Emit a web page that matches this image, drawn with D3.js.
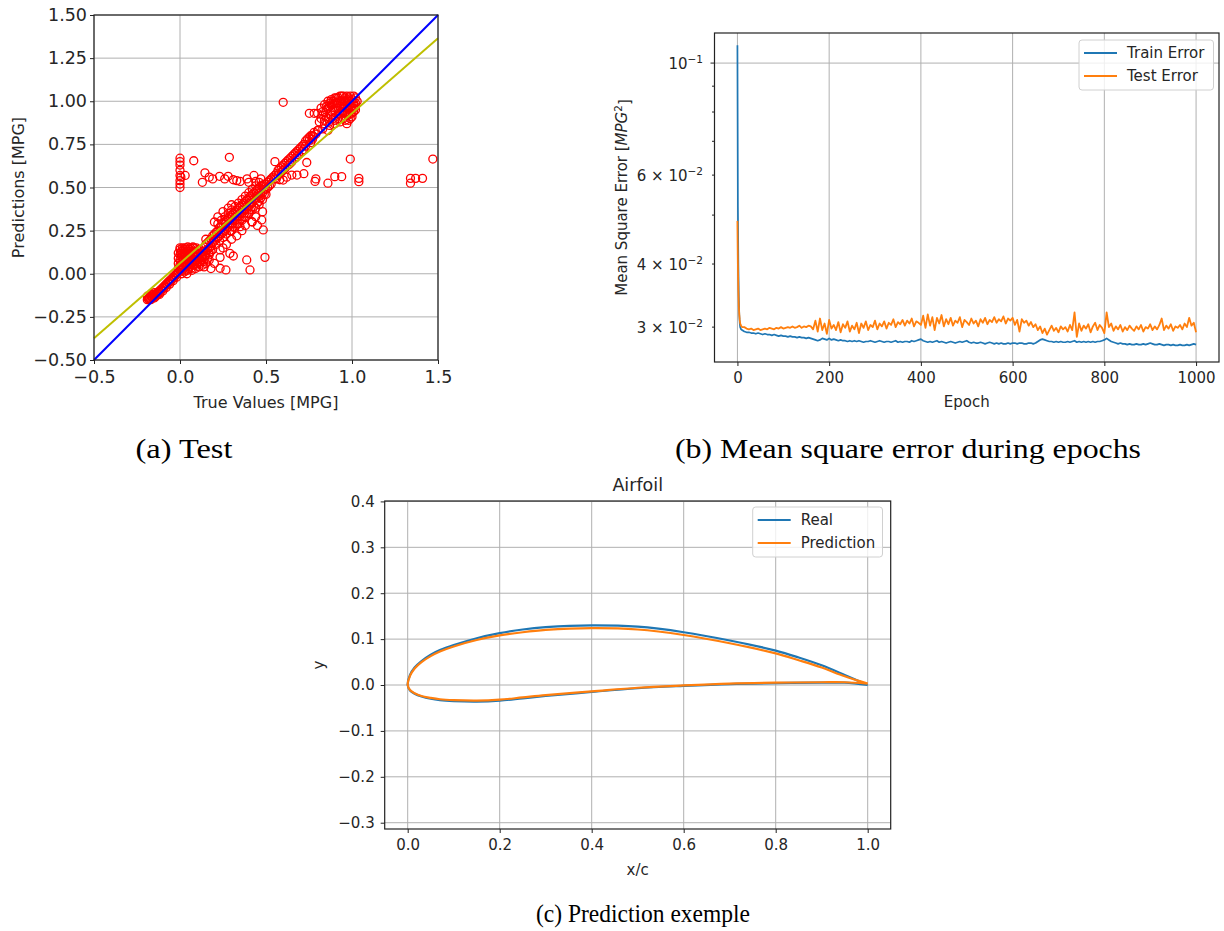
<!DOCTYPE html>
<html lang="en">
  <head>
    <meta charset="utf-8">
    <title>Test / MSE / Airfoil</title>
    <script src="https://d3js.org/d3.v7.min.js"></script>
    <style>
      body { margin: 0; background: #fff; }
      text { font-family: "DejaVu Sans", sans-serif; fill: #262626; }
      .caption { font-family: "Liberation Serif", serif; fill: #000; }
    </style>
  </head>
  <body>
    <script>
    // ---------------- data: (a) true values vs predictions ----------------
    const aXTicks = [-0.5, 0, 0.5, 1.0, 1.5]
    const aYTicks = [-0.5, -0.25, 0, 0.25, 0.5, 0.75, 1.0, 1.25, 1.5]
    const identityX = [-0.5, 1.5]
    const identityY = [-0.5, 1.5]
    const fitX = [-0.5, 1.5]
    const fitY = [-0.374, 1.365]
    // [true, predicted]
    const testPoints = [
      // lower tail below zero
      [-0.19,-0.15],[-0.18,-0.14],[-0.18,-0.15],[-0.17,-0.13],[-0.17,-0.15],[-0.16,-0.14],[-0.16,-0.12],
      [-0.15,-0.13],[-0.15,-0.14],[-0.14,-0.12],[-0.14,-0.13],[-0.13,-0.11],[-0.13,-0.12],[-0.12,-0.10],
      [-0.12,-0.12],[-0.11,-0.09],[-0.10,-0.10],[-0.10,-0.08],[-0.09,-0.07],[-0.08,-0.08],[-0.08,-0.06],
      [-0.07,-0.05],[-0.06,-0.06],[-0.06,-0.04],[-0.05,-0.03],[-0.04,-0.04],[-0.04,-0.02],[-0.03,-0.01],
      [-0.02,-0.02],[-0.02,0.00],[-0.01,0.01],
      [-0.185,-0.145],[-0.175,-0.14],[-0.165,-0.135],[-0.155,-0.125],[-0.145,-0.135],[-0.135,-0.115],
      [-0.125,-0.105],[-0.115,-0.11],[-0.105,-0.09],[-0.095,-0.085],[-0.085,-0.07],[-0.075,-0.065],
      [-0.065,-0.05],[-0.055,-0.045],[-0.045,-0.03],[-0.035,-0.025],[-0.025,-0.01],[-0.015,0.0],
      [-0.19,-0.13],[-0.17,-0.12],[-0.15,-0.11],
      // blob near the origin
      [0.0,0.02],[0.0,0.05],[0.0,0.08],[0.0,0.11],[0.0,0.14],[0.0,0.15],[0.005,0.03],[0.005,0.07],
      [0.005,0.12],[0.01,0.0],[0.01,0.1],[0.01,0.13],[0.02,0.04],[0.02,0.08],[0.02,0.14],[0.03,0.02],
      [0.03,0.06],[0.03,0.11],[0.03,0.15],[0.04,0.0],[0.04,0.09],[0.04,0.13],[0.05,0.03],[0.05,0.07],
      [0.05,0.12],[0.06,0.05],[0.06,0.1],[0.06,0.15],[0.07,0.02],[0.07,0.08],[0.07,0.13],[0.08,0.05],
      [0.08,0.1],[0.08,0.15],[0.09,0.03],[0.09,0.08],[0.09,0.12],[0.1,0.06],[0.1,0.1],[0.1,0.14],
      [0.11,0.04],[0.11,0.09],[0.12,0.07],[0.12,0.12],[0.13,0.05],[0.13,0.1],[0.14,0.08],[0.14,0.13],
      [0.15,0.06],[0.15,0.11],
      [-0.01,0.03],[-0.01,0.06],[-0.01,0.09],[-0.01,0.12],[0.015,0.02],[0.015,0.05],[0.015,0.085],
      [0.015,0.115],[0.015,0.15],[0.025,0.01],[0.025,0.065],[0.025,0.1],[0.025,0.13],[0.035,0.04],
      [0.035,0.08],[0.035,0.14],[0.045,0.02],[0.045,0.06],[0.045,0.11],[0.045,0.155],[0.055,0.04],
      [0.055,0.09],[0.055,0.14],[0.065,0.03],[0.065,0.07],[0.065,0.12],[0.075,0.05],[0.075,0.11],
      [0.075,0.155],[0.085,0.07],[0.085,0.13],[0.095,0.05],[0.095,0.1],[0.095,0.15],[0.105,0.08],
      [0.105,0.12],[0.115,0.06],[0.115,0.14],[0.125,0.1],[0.135,0.07],[0.135,0.13],[0.145,0.1],
      [0.16,0.09],[0.16,0.14],[0.17,0.11],[0.18,0.13],[0.18,0.16],
      // under-predicted low values
      [0.14,0.04],[0.18,0.03],[0.2,0.06],[0.17,0.08],[0.233,0.138],[0.233,0.095],[0.29,0.118],
      [0.31,0.103],[0.233,0.032],[0.267,0.022],[0.388,0.08],[0.407,0.022],[0.494,0.095],
      // main diagonal band
      [0.15,0.17],[0.15,0.13],[0.15,0.2],[0.17,0.19],[0.17,0.15],[0.17,0.12],[0.19,0.22],[0.19,0.18],
      [0.19,0.14],[0.21,0.24],[0.21,0.2],[0.21,0.17],[0.23,0.27],[0.23,0.22],[0.23,0.19],[0.25,0.29],
      [0.25,0.24],[0.25,0.21],[0.27,0.31],[0.27,0.26],[0.27,0.23],[0.29,0.33],[0.29,0.29],[0.29,0.25],
      [0.31,0.35],[0.31,0.31],[0.31,0.27],[0.33,0.37],[0.33,0.33],[0.33,0.29],[0.35,0.39],[0.35,0.35],
      [0.35,0.31],[0.37,0.41],[0.37,0.37],[0.37,0.33],[0.39,0.43],[0.39,0.39],[0.39,0.35],[0.41,0.45],
      [0.41,0.41],[0.41,0.37],[0.43,0.47],[0.43,0.43],[0.43,0.39],[0.45,0.49],[0.45,0.45],[0.45,0.41],
      [0.47,0.51],[0.47,0.47],[0.47,0.44],[0.49,0.52],[0.49,0.49],[0.49,0.46],
      [0.16,0.18],[0.18,0.2],[0.18,0.16],[0.2,0.23],[0.2,0.19],[0.22,0.25],[0.22,0.21],[0.24,0.27],
      [0.24,0.23],[0.26,0.3],[0.26,0.25],[0.28,0.32],[0.28,0.27],[0.3,0.34],[0.3,0.29],[0.32,0.36],
      [0.32,0.31],[0.34,0.38],[0.34,0.33],[0.36,0.4],[0.36,0.35],[0.38,0.42],[0.38,0.37],[0.4,0.44],
      [0.4,0.39],[0.42,0.46],[0.42,0.41],[0.44,0.48],[0.44,0.43],[0.46,0.5],[0.46,0.45],[0.48,0.51],
      [0.48,0.47],[0.5,0.52],[0.5,0.49],
      [0.22,0.29],[0.24,0.31],[0.26,0.33],[0.28,0.35],[0.3,0.37],[0.32,0.39],[0.34,0.41],[0.36,0.43],
      [0.38,0.45],[0.4,0.47],[0.42,0.49],[0.44,0.51],[0.46,0.53],
      [0.3,0.25],[0.32,0.27],[0.34,0.29],[0.36,0.31],[0.38,0.33],[0.4,0.35],[0.42,0.37],[0.44,0.38],
      [0.46,0.42],[0.48,0.43],[0.5,0.46],
      [0.2,0.3],[0.22,0.33],[0.25,0.36],[0.28,0.38],[0.3,0.4],[0.4,0.35],[0.42,0.3],[0.44,0.33],
      [0.46,0.4],[0.45,0.28],[0.36,0.25],[0.38,0.28],[0.33,0.22],[0.3,0.2],[0.27,0.17],[0.25,0.15],
      [0.48,0.36],[0.475,0.312],[0.484,0.254],[0.417,0.302],[0.349,0.273],
      [0.51,0.53],[0.51,0.5],[0.53,0.55],[0.53,0.52],[0.55,0.57],[0.55,0.55],[0.57,0.6],[0.57,0.57],
      [0.59,0.62],[0.59,0.59],[0.61,0.64],[0.61,0.61],[0.63,0.66],[0.63,0.63],[0.65,0.68],[0.65,0.65],
      [0.67,0.7],[0.67,0.67],[0.69,0.72],[0.69,0.69],[0.71,0.74],[0.71,0.71],[0.73,0.77],[0.73,0.74],
      [0.75,0.79],[0.75,0.77],[0.77,0.8],[0.77,0.78],[0.775,0.795],[0.804,0.833],
      [0.52,0.54],[0.54,0.56],[0.56,0.58],[0.58,0.61],[0.6,0.63],[0.62,0.65],[0.64,0.67],[0.66,0.69],
      [0.68,0.71],[0.7,0.73],[0.72,0.75],[0.74,0.78],[0.76,0.8],[0.78,0.82],[0.52,0.51],[0.56,0.55],
      [0.6,0.6],[0.64,0.64],[0.68,0.68],[0.72,0.72],[0.76,0.76],
      // upper cluster
      [0.82,0.96],[0.84,0.98],[0.85,0.95],[0.86,1.0],[0.87,0.97],[0.88,0.94],[0.88,1.01],[0.89,0.98],
      [0.9,0.95],[0.9,1.02],[0.91,0.99],[0.92,0.96],[0.92,1.02],[0.93,0.93],[0.93,1.0],[0.94,0.97],
      [0.94,1.03],[0.95,0.94],[0.95,1.0],[0.96,0.97],[0.96,1.02],[0.97,0.92],[0.97,0.99],[0.98,0.95],
      [0.98,1.02],[0.99,0.98],[0.99,0.93],[1.0,1.01],[1.0,0.96],[1.01,0.99],[1.01,0.94],[1.02,1.02],
      [1.02,0.97],[1.03,1.0],[0.8,0.93],[0.78,0.93],[0.752,0.93],[0.83,0.92],[0.86,0.9],[0.89,0.9],
      [0.92,0.9],[0.95,0.9],[0.98,0.89],[1.0,0.91],[0.81,0.88],[0.84,0.87],[0.87,0.86],[0.83,0.84],
      [0.8,0.83],[0.79,0.81],[0.86,0.83],[0.9,0.87],[0.97,0.87],
      [0.83,0.94],[0.85,0.97],[0.87,0.99],[0.89,1.0],[0.91,1.02],[0.93,1.03],[0.95,1.03],[0.97,1.03],
      [0.99,1.03],[1.01,1.03],[0.86,0.96],[0.88,0.98],[0.9,0.99],[0.92,0.99],[0.94,1.0],[0.96,1.0],
      [0.98,1.0],[1.0,0.99],[1.02,0.99],[0.89,0.95],[0.91,0.96],[0.93,0.97],[0.95,0.97],[0.97,0.96],
      [0.99,0.96],[1.01,0.96],[0.92,0.93],[0.94,0.94],[0.96,0.93],[0.98,0.92],[1.0,0.93],[1.02,0.95],
      [0.85,0.91],[0.88,0.92],[0.82,0.9],[0.84,0.89],[0.87,0.88],[0.9,0.89],[0.93,0.88],[0.96,0.89],
      [0.99,0.9],
      // horizontal band near 0.55
      [0,0.67],[0,0.65],[0,0.63],[0,0.6],[0,0.57],[0,0.54],[0,0.52],[0,0.5],[0.005,0.56],[0.03,0.57],
      [0.08,0.655],[0.13,0.53],[0.145,0.585],[0.17,0.56],[0.19,0.55],[0.23,0.565],[0.26,0.55],
      [0.28,0.565],[0.287,0.675],[0.31,0.545],[0.33,0.54],[0.35,0.535],[0.39,0.55],[0.4,0.53],
      [0.43,0.57],[0.44,0.535],[0.47,0.55],[0.552,0.65],[0.58,0.545],[0.6,0.543],[0.62,0.56],
      [0.65,0.572],[0.68,0.572],[0.72,0.58],[0.737,0.645],[0.785,0.535],[0.79,0.55],[0.86,0.525],
      [0.9,0.563],[0.94,0.563],[0.99,0.665],[1.04,0.553],[1.04,0.534],[1.34,0.553],[1.34,0.525],
      [1.37,0.553],[1.41,0.553],[1.47,0.665],[0.6,0.994]
    ]

    // ---------------- data: (b) training history ----------------
    const bXTicks = [0, 200, 400, 600, 800, 1000]
    const errLabelVals = [0.03, 0.04, 0.06, 0.1]
    const errLabelBase = ["3 × 10", "4 × 10", "6 × 10", "10"]
    const errLabelExp = ["−2", "−2", "−2", "−1"]
    const errMinor = [0.03, 0.04, 0.05, 0.06, 0.07, 0.08, 0.09]
    const errMajor = [0.1]
    const headEpochs = [0, 1, 2, 3, 4, 5, 6, 8, 10]
    const trainHead = [0.1085, 0.0520, 0.0400, 0.0345, 0.0318, 0.0306, 0.0300, 0.0297, 0.0296]
    const testHead = [0.0487, 0.0400, 0.0355, 0.0330, 0.0318, 0.0310, 0.0305, 0.0302, 0.0300]
    // epochs 15, 20, ..., 1000
    const trainTail = [
      0.0294, 0.0293, 0.0293, 0.0292, 0.0292, 0.0291, 0.0292, 0.0291, 0.0290, 0.0291,
      0.0290, 0.0290, 0.0289, 0.0290, 0.0289, 0.0288, 0.0289, 0.0288, 0.0288, 0.0287,
      0.0288, 0.0287, 0.0287, 0.0286, 0.0287, 0.0286, 0.0286, 0.0285, 0.0286, 0.0285,
      0.0284, 0.0283, 0.0282, 0.0283, 0.0285, 0.0284, 0.0283, 0.0285, 0.0283, 0.0284,
      0.0283, 0.0282, 0.0283, 0.0282, 0.0282, 0.0281, 0.0282, 0.0281, 0.0282, 0.0281,
      0.0282, 0.0281, 0.0280, 0.0281, 0.0281, 0.0282, 0.0281, 0.0280, 0.0281, 0.0282,
      0.0281, 0.0280, 0.0281, 0.0281, 0.0280, 0.0281, 0.0282, 0.0280, 0.0281, 0.0280,
      0.0281, 0.0281, 0.0280, 0.0282, 0.0281, 0.0282, 0.0283, 0.0284, 0.0282, 0.0281,
      0.0280, 0.0281, 0.0280, 0.0281, 0.0282, 0.0280, 0.0281, 0.0280, 0.0279, 0.0280,
      0.0281, 0.0280, 0.0279, 0.0280, 0.0281, 0.0280, 0.0281, 0.0282, 0.0280, 0.0279,
      0.0280, 0.0279, 0.0279, 0.0280, 0.0279, 0.0278, 0.0279, 0.0280, 0.0279, 0.0278,
      0.0279, 0.0278, 0.0279, 0.0278, 0.0278, 0.0279, 0.0278, 0.0279, 0.0279, 0.0278,
      0.0279, 0.0279, 0.0278, 0.0278, 0.0279, 0.0279, 0.0278, 0.0279, 0.0281, 0.0283,
      0.0284, 0.0283, 0.0282, 0.0281, 0.0281, 0.0280, 0.0281, 0.0280, 0.0281, 0.0280,
      0.0280, 0.0281, 0.0280, 0.0281, 0.0282, 0.0280, 0.0281, 0.0280, 0.0281, 0.0280,
      0.0281, 0.0280, 0.0281, 0.0280, 0.0281, 0.0281, 0.0282, 0.0283, 0.0285, 0.0283,
      0.0281, 0.0280, 0.0279, 0.0278, 0.0279, 0.0278, 0.0278, 0.0277, 0.0278, 0.0277,
      0.0277, 0.0278, 0.0277, 0.0277, 0.0278, 0.0277, 0.0278, 0.0279, 0.0278, 0.0277,
      0.0277, 0.0278, 0.0277, 0.0276, 0.0277, 0.0277, 0.0276, 0.0277, 0.0276, 0.0276,
      0.0277, 0.0276, 0.0276, 0.0277, 0.0276, 0.0277, 0.0278, 0.0277
    ]
    const testTail = [
      0.0300, 0.0298, 0.0297, 0.0298, 0.0296, 0.0297, 0.0298, 0.0296, 0.0297, 0.0298,
      0.0297, 0.0299, 0.0298, 0.0297, 0.0299, 0.0298, 0.0300, 0.0298, 0.0299, 0.0300,
      0.0299, 0.0301, 0.0299, 0.0300, 0.0302, 0.0299, 0.0301, 0.0300, 0.0302, 0.0301,
      0.0297, 0.0309, 0.0294, 0.0312, 0.0296, 0.0305, 0.0291, 0.0310, 0.0298, 0.0303,
      0.0296, 0.0307, 0.0293, 0.0304, 0.0299, 0.0308, 0.0294, 0.0302, 0.0297, 0.0306,
      0.0292, 0.0305, 0.0299, 0.0308, 0.0296, 0.0303, 0.0300, 0.0309, 0.0297, 0.0305,
      0.0301, 0.0308, 0.0298, 0.0306, 0.0303, 0.0311, 0.0300, 0.0307, 0.0304, 0.0310,
      0.0302, 0.0309, 0.0305, 0.0312, 0.0301, 0.0308, 0.0306, 0.0303, 0.0316, 0.0299,
      0.0318, 0.0302, 0.0314, 0.0296, 0.0313, 0.0305, 0.0317, 0.0301, 0.0311, 0.0304,
      0.0313, 0.0302, 0.0309, 0.0306, 0.0314, 0.0300, 0.0310, 0.0307, 0.0303, 0.0312,
      0.0305, 0.0309, 0.0301, 0.0311, 0.0306, 0.0313, 0.0304, 0.0310, 0.0307, 0.0314,
      0.0306, 0.0311, 0.0308, 0.0315, 0.0305, 0.0312, 0.0309, 0.0313, 0.0303, 0.0310,
      0.0294, 0.0311, 0.0306, 0.0309, 0.0302, 0.0307, 0.0300, 0.0304, 0.0296, 0.0301,
      0.0292, 0.0298, 0.0290, 0.0296, 0.0302, 0.0295, 0.0299, 0.0293, 0.0301, 0.0297,
      0.0300, 0.0294, 0.0303, 0.0296, 0.0321, 0.0287, 0.0305, 0.0295, 0.0302, 0.0298,
      0.0304, 0.0293, 0.0301, 0.0306, 0.0296, 0.0303, 0.0299, 0.0292, 0.0321, 0.0300,
      0.0305, 0.0295, 0.0301, 0.0297, 0.0303, 0.0294, 0.0300, 0.0296, 0.0302, 0.0298,
      0.0295, 0.0301, 0.0297, 0.0303, 0.0294, 0.0300, 0.0298, 0.0304, 0.0296, 0.0301,
      0.0297, 0.0303, 0.0312, 0.0296, 0.0302, 0.0298, 0.0304, 0.0295, 0.0301, 0.0299,
      0.0303, 0.0297, 0.0305, 0.0300, 0.0313, 0.0302, 0.0306, 0.0293
    ]

    // ---------------- data: (c) airfoil ----------------
    const cXTicks = [0, 0.2, 0.4, 0.6, 0.8, 1.0]
    const cYTicks = [-0.3, -0.2, -0.1, 0, 0.1, 0.2, 0.3, 0.4]
    const upperX = [1.0, 0.95, 0.9, 0.85, 0.8, 0.7, 0.6, 0.5, 0.4, 0.3, 0.25, 0.2, 0.15, 0.1, 0.07, 0.05, 0.03, 0.015, 0.005, 0.0]
    const upperReal = [0.000, 0.022, 0.043, 0.060, 0.075, 0.097, 0.115, 0.127, 0.130, 0.126, 0.121, 0.113, 0.102, 0.087, 0.076, 0.066, 0.052, 0.038, 0.022, 0.000]
    const upperPred = [0.003, 0.019, 0.038, 0.054, 0.069, 0.091, 0.109, 0.121, 0.124, 0.120, 0.115, 0.108, 0.098, 0.084, 0.073, 0.063, 0.050, 0.036, 0.020, 0.000]
    const lowerX = [0.005, 0.015, 0.03, 0.05, 0.07, 0.1, 0.15, 0.2, 0.25, 0.3, 0.4, 0.5, 0.6, 0.7, 0.8, 0.9, 0.95, 1.0]
    const lowerReal = [-0.012, -0.019, -0.025, -0.030, -0.033, -0.035, -0.036, -0.034, -0.029, -0.024, -0.015, -0.007, -0.002, 0.002, 0.004, 0.005, 0.005, 0.000]
    const lowerPred = [-0.011, -0.018, -0.024, -0.028, -0.031, -0.033, -0.034, -0.032, -0.027, -0.022, -0.014, -0.006, -0.001, 0.003, 0.005, 0.006, 0.006, 0.003]

    const gridColor = "#b0b0b0"
    const frameColor = "#222"
    const blue = "#1f77b4"
    const orange = "#ff7f0e"

    const svg = d3.select("body").append("svg")
        .attr("width", 1224)
        .attr("height", 931)

    function drawGrid(g, xs, ys, xt, yt, box) {
        g.selectAll(".gx").data(xt).join("line")
            .attr("x1", d => xs(d)).attr("x2", d => xs(d))
            .attr("y1", box.top).attr("y2", box.bottom)
            .attr("stroke", gridColor).attr("stroke-width", 1)
        g.selectAll(".gy").data(yt).join("line")
            .attr("x1", box.left).attr("x2", box.right)
            .attr("y1", d => ys(d)).attr("y2", d => ys(d))
            .attr("stroke", gridColor).attr("stroke-width", 1)
    }

    function drawFrame(g, box) {
        g.append("rect")
            .attr("x", box.left).attr("y", box.top)
            .attr("width", box.right - box.left).attr("height", box.bottom - box.top)
            .attr("fill", "none").attr("stroke", frameColor).attr("stroke-width", 1.2)
    }

    function styleAxis(sel, fs) {
        sel.select(".domain").remove()
        sel.selectAll(".tick line").attr("stroke", frameColor)
        sel.selectAll(".tick text").attr("fill", "#262626")
            .style("font-family", "'DejaVu Sans', sans-serif").style("font-size", fs + "px")
    }

    function drawLegend(g, x, y, w, h, items, fs) {
        g.append("rect").attr("x", x).attr("y", y).attr("width", w).attr("height", h)
            .attr("rx", 3).attr("fill", "#fff").attr("fill-opacity", 0.8)
            .attr("stroke", "#d0d0d0").attr("stroke-width", 1)
        items.forEach((it, i) => {
            const cy = y + 13 + i * 23
            g.append("line").attr("x1", x + 5).attr("x2", x + 38).attr("y1", cy).attr("y2", cy)
                .attr("stroke", it.color).attr("stroke-width", 2)
            g.append("text").attr("x", x + 48).attr("y", cy).attr("dy", "0.35em")
                .style("font-size", fs + "px").text(it.label)
        })
    }

    // ================= (a) =================
    const aBox = { left: 94, right: 438, top: 15, bottom: 360 }
    const ax = d3.scaleLinear().domain([-0.5, 1.5]).range([aBox.left, aBox.right])
    const ay = d3.scaleLinear().domain([-0.5, 1.5]).range([aBox.bottom, aBox.top])
    const ga = svg.append("g")
    drawGrid(ga, ax, ay, aXTicks, aYTicks, aBox)

    ga.append("g").selectAll("circle").data(testPoints).join("circle")
        .attr("cx", d => ax(d[0])).attr("cy", d => ay(d[1])).attr("r", 4)
        .attr("fill", "none").attr("stroke", "#ff0000").attr("stroke-width", 1.3)

    const lineA = d3.line().x(d => ax(d[0])).y(d => ay(d[1]))
    ga.append("path").datum(d3.zip(identityX, identityY)).attr("d", lineA)
        .attr("stroke", "#0000ff").attr("stroke-width", 2).attr("fill", "none")
    ga.append("path").datum(d3.zip(fitX, fitY)).attr("d", lineA)
        .attr("stroke", "#bfbf00").attr("stroke-width", 2).attr("fill", "none")

    ga.append("g").attr("transform", "translate(0," + aBox.bottom + ")")
        .call(d3.axisBottom(ax).tickValues(aXTicks).tickFormat(d3.format(".1f")).tickSize(4).tickPadding(7))
        .call(s => styleAxis(s, 17.5))
    ga.append("g").attr("transform", "translate(" + aBox.left + ",0)")
        .call(d3.axisLeft(ay).tickValues(aYTicks).tickFormat(d3.format(".2f")).tickSize(4).tickPadding(3))
        .call(s => styleAxis(s, 17.5))
    drawFrame(ga, aBox)

    ga.append("text").attr("x", (aBox.left + aBox.right) / 2).attr("y", 402).attr("dy", "0.35em")
        .attr("text-anchor", "middle").style("font-size", "16px").text("True Values [MPG]")
    ga.append("text").attr("transform", "translate(18," + (aBox.top + aBox.bottom) / 2 + ") rotate(-90)")
        .attr("dy", "0.35em").attr("text-anchor", "middle").style("font-size", "16px").text("Predictions [MPG]")

    // ================= (b) =================
    const bBox = { left: 714.5, right: 1219, top: 33, bottom: 362 }
    const bx = d3.scaleLinear().domain([-50, 1050]).range([bBox.left, bBox.right])
    const by = d3.scaleLog().domain([0.02559, 0.1147]).range([bBox.bottom, bBox.top])
    const gb = svg.append("g")
    drawGrid(gb, bx, by, bXTicks, errMajor, bBox)

    const tailEpochs = d3.range(15, 1001, 5)
    const trainSeries = d3.zip(headEpochs.concat(tailEpochs), trainHead.concat(trainTail))
    const testSeries = d3.zip(headEpochs.concat(tailEpochs), testHead.concat(testTail))
    const lineB = d3.line().x(d => bx(d[0])).y(d => by(d[1]))
    gb.append("path").datum(trainSeries).attr("d", lineB)
        .attr("stroke", blue).attr("stroke-width", 1.7).attr("fill", "none").attr("stroke-linejoin", "round")
    gb.append("path").datum(testSeries).attr("d", lineB)
        .attr("stroke", orange).attr("stroke-width", 1.8).attr("fill", "none").attr("stroke-linejoin", "round")

    gb.append("g").attr("transform", "translate(0," + bBox.bottom + ")")
        .call(d3.axisBottom(bx).tickValues(bXTicks).tickFormat(d3.format("d")).tickSize(4).tickPadding(6))
        .call(s => styleAxis(s, 15))

    // log axis: minor and major ticks, hand-placed labels with superscripts
    gb.selectAll(".minor").data(errMinor).join("line")
        .attr("x1", bBox.left - 2.5).attr("x2", bBox.left)
        .attr("y1", d => by(d)).attr("y2", d => by(d)).attr("stroke", frameColor)
    gb.selectAll(".major").data(errMajor).join("line")
        .attr("x1", bBox.left - 4).attr("x2", bBox.left)
        .attr("y1", d => by(d)).attr("y2", d => by(d)).attr("stroke", frameColor)
    errLabelVals.forEach((v, i) => {
        const t = gb.append("text").attr("x", 703).attr("y", by(v)).attr("dy", "0.4em")
            .attr("text-anchor", "end").style("font-size", "15px")
        t.append("tspan").text(errLabelBase[i])
        t.append("tspan").attr("dy", "-0.55em").style("font-size", "10.5px").text(errLabelExp[i])
    })
    drawFrame(gb, bBox)

    gb.append("text").attr("x", (bBox.left + bBox.right) / 2).attr("y", 402).attr("dy", "0.35em")
        .attr("text-anchor", "middle").style("font-size", "15px").text("Epoch")
    const yl = gb.append("text").attr("transform", "translate(622," + (bBox.top + bBox.bottom) / 2 + ") rotate(-90)")
        .attr("dy", "0.35em").attr("text-anchor", "middle").style("font-size", "15px")
    yl.append("tspan").text("Mean Square Error [")
    yl.append("tspan").style("font-style", "italic").text("MPG")
    yl.append("tspan").attr("dy", "-0.5em").style("font-size", "10.5px").text("2")
    yl.append("tspan").attr("dy", "0.5em").text("]")

    drawLegend(gb, 1079, 40, 134.5, 50, [
        { label: "Train Error", color: blue },
        { label: "Test Error", color: orange }
    ], 15)

    // ================= (c) =================
    const cBox = { left: 384.7, right: 890.7, top: 501, bottom: 829 }
    const cx = d3.scaleLinear().domain([-0.05, 1.05]).range([cBox.left, cBox.right])
    const cy = d3.scaleLinear().domain([-0.3137, 0.4009]).range([cBox.bottom, cBox.top])
    const gc = svg.append("g")
    drawGrid(gc, cx, cy, cXTicks, cYTicks, cBox)

    const realShape = d3.zip(upperX, upperReal).concat(d3.zip(lowerX, lowerReal))
    const predShape = d3.zip(upperX, upperPred).concat(d3.zip(lowerX, lowerPred))
    const lineC = d3.line().x(d => cx(d[0])).y(d => cy(d[1])).curve(d3.curveCatmullRom.alpha(0.5))
    gc.append("path").datum(realShape).attr("d", lineC)
        .attr("stroke", blue).attr("stroke-width", 2.2).attr("fill", "none")
    gc.append("path").datum(predShape).attr("d", lineC)
        .attr("stroke", orange).attr("stroke-width", 2.2).attr("fill", "none")

    gc.append("g").attr("transform", "translate(0," + cBox.bottom + ")")
        .call(d3.axisBottom(cx).tickValues(cXTicks).tickFormat(d3.format(".1f")).tickSize(4).tickPadding(6))
        .call(s => styleAxis(s, 15))
    gc.append("g").attr("transform", "translate(" + cBox.left + ",0)")
        .call(d3.axisLeft(cy).tickValues(cYTicks).tickFormat(d3.format(".1f")).tickSize(4).tickPadding(6))
        .call(s => styleAxis(s, 15))
    drawFrame(gc, cBox)

    gc.append("text").attr("x", (cBox.left + cBox.right) / 2).attr("y", 485).attr("dy", "0.35em")
        .attr("text-anchor", "middle").style("font-size", "17.5px").text("Airfoil")
    gc.append("text").attr("x", (cBox.left + cBox.right) / 2).attr("y", 870).attr("dy", "0.35em")
        .attr("text-anchor", "middle").style("font-size", "15px").text("x/c")
    gc.append("text").attr("transform", "translate(319," + (cBox.top + cBox.bottom) / 2 + ") rotate(-90)")
        .attr("dy", "0.35em").attr("text-anchor", "middle").style("font-size", "15px").text("y")

    drawLegend(gc, 752.7, 507, 129.8, 50, [
        { label: "Real", color: blue },
        { label: "Prediction", color: orange }
    ], 15)

    // ================= captions =================
    const captions = [
        { text: "(a) Test", x: 184, y: 458, len: 97, size: 27 },
        { text: "(b) Mean square error during epochs", x: 908, y: 458, len: 466, size: 28 },
        { text: "(c) Prediction exemple", x: 643, y: 922, len: 214, size: 25 }
    ]
    svg.selectAll(".caption").data(captions).join("text")
        .attr("class", "caption")
        .attr("x", d => d.x).attr("y", d => d.y)
        .attr("text-anchor", "middle")
        .attr("textLength", d => d.len).attr("lengthAdjust", "spacingAndGlyphs")
        .style("font-size", d => d.size + "px")
        .text(d => d.text)
    </script>
  </body>
</html>
